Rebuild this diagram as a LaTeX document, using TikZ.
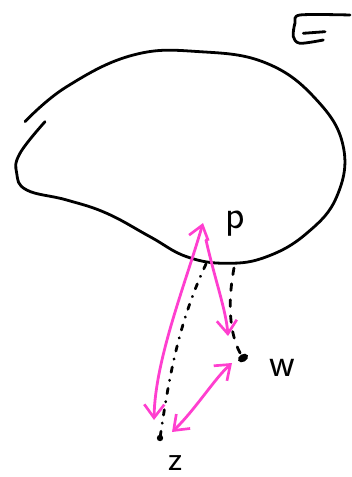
\documentclass[tikz,border=0pt]{standalone}
\usetikzlibrary{arrows.meta}
\definecolor{pinkpen}{HTML}{FF3FCF}
\begin{document}
\begin{tikzpicture}[x=0.75pt,y=-0.75pt,
  pen/.style={line width=2.1pt,line cap=round,line join=round,black},
  mpen/.style={line width=2.1pt,line cap=round,line join=round,pinkpen},
  tip/.style={arrows={#1}},
  barb/.tip={Straight Barb[length=10pt,width=15pt,line width=2pt]},
  dashdotline/.style={pen,dash pattern=on 4pt off 6pt on 0.3pt off 6pt},
  dashline/.style={pen,dash pattern=on 5pt off 7pt},
  lbl/.style={font=\sffamily\fontsize{30}{30}\selectfont,inner sep=0pt}]
\useasboundingbox (0,0) rectangle (352,477);
% blob
\draw[pen] plot[smooth,tension=0.7] coordinates {(25,121.7) (66.7,86.7) (133.3,55) (200,51.7) (266.7,63.3) (316.7,100) (343.3,146.7) (336.7,196.7) (306.7,233.3) (266.7,256.7) (226.7,263.3) (186.7,256.7) (150,236.7) (106.7,213.3) (66.7,200) (26.7,190) (16.7,173.3) (20,153.3) (45,121.7)};
% top right mark
\draw[pen] plot[smooth] coordinates {(350,15) (300,15) (295,23) (293.3,36.7) (300,43.3) (323.3,40)};
\draw[pen] (303.3,33.3) -- (325,31.7);
% points
\coordinate (pa) at (203,223);
\coordinate (pb) at (206,240);
\coordinate (pl) at (206,264);
\coordinate (pr) at (234,268);
\coordinate (zt) at (154,420);
\coordinate (z) at (160,438);
\coordinate (w) at (243,358);
\coordinate (wa) at (228,336);
\coordinate (zw1) at (172,432);
\coordinate (zw2) at (232,363);
\fill[black,rotate around={30:(w)}] (w) ellipse [x radius=5.5, y radius=3.8];
\fill[black] (z) circle [radius=3.2];
% labels
\node[lbl,fontsize/.code={}] (plabel) at (235,224) {p};
\node[lbl] (wlabel) at (282,368) {w};
\node[lbl,font=\sffamily\fontsize{26}{26}\selectfont] (zlabel) at (176,463) {z};
% black dashed lines
\draw[dashdotline] (pl) .. controls (180,320) and (170,370) .. (z);
\draw[dashline] (pr) .. controls (228,300) and (228,335) .. (w);
% magenta arrows
\draw[mpen,tip={barb-barb}] (pa) .. controls (185,285) and (155,360) .. (zt);
\draw[mpen,tip={-barb}] (pb) .. controls (215,280) and (226,310) .. (wa);
\draw[mpen,tip={barb-barb}] (zw1) .. controls (195,410) and (215,378) .. (zw2);
\end{tikzpicture}
\end{document}
